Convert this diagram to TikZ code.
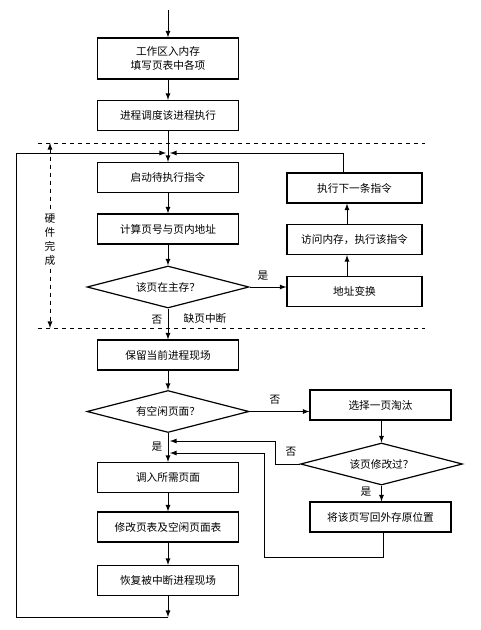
\documentclass[tikz,border=0pt]{standalone}
\usepackage{fontspec}
\setmainfont{Noto Sans CJK SC}
\usetikzlibrary{shapes.geometric}

\begin{document}
\begin{tikzpicture}[x=0.75pt,y=-0.75pt,>=latex]
\tikzstyle{every node}+=[inner sep=0pt,font=\fontsize{8}{11}\selectfont]
\tikzstyle{stepbox}=[draw=black,line width=0.9pt,minimum width=105.75pt,minimum height=22.5pt,align=center]
\tikzstyle{testbox}=[draw=black,line width=0.9pt,diamond,shape aspect=3.86,minimum width=121.5pt,minimum height=31.5pt]
\tikzstyle{flow}=[line width=0.7pt]
\useasboundingbox (0,0) rectangle (480,630);
% left column
\node [stepbox,minimum height=30.75pt] (load) at (168,58.5) {工作区入内存\\填写页表中各项};
\node [stepbox] (sched) at (168,115.5) {进程调度该进程执行};
\node [stepbox] (fetch) at (168,177.5) {启动待执行指令};
\node [stepbox] (calc) at (168,229) {计算页号与页内地址};
\node [testbox] (inmem) at (168,287) {该页在主存？};
\node [stepbox] (save) at (168,355) {保留当前进程现场};
\node [testbox] (free) at (168,411.5) {有空闲页面？};
\node [stepbox] (bring) at (168,477.5) {调入所需页面};
\node [stepbox] (table) at (168,527) {修改页表及空闲页面表};
\node [stepbox] (restore) at (168,580.5) {恢复被中断进程现场};
% right column
\node [stepbox,minimum width=101.25pt] (addr) at (354.5,291.5) {地址变换};
\node [stepbox,minimum width=101.25pt] (access) at (354.5,239.5) {访问内存，执行该指令};
\node [stepbox,minimum width=101.25pt] (next) at (354.5,188) {执行下一条指令};
\node [stepbox] (evict) at (380.5,405) {选择一页淘汰};
\node [testbox] (dirty) at (381.5,464) {该页修改过？};
\node [stepbox] (write) at (380.5,517) {将该页写回外存原位置};
% corner points
\coordinate (start) at (168,10);
\coordinate (jl) at (166,153);
\coordinate (jr) at (170,153);
\coordinate (lt) at (16,153);
\coordinate (lb) at (16,617);
\coordinate (bot) at (168,617);
\coordinate (rt) at (343,153);
\coordinate (ax) at (347,0);
\coordinate (na) at (170,441);
\coordinate (nb) at (170,453);
\coordinate (ca) at (275,441);
\coordinate (cb) at (264,557);
\coordinate (cc) at (383,557);
% main flow
\draw [flow,->] (start) -- (load);
\draw [flow,->] (load) -- (sched);
\draw [flow,->] (sched) -- (fetch);
\draw [flow,->] (fetch) -- (calc);
\draw [flow,->] (calc) -- (inmem);
\draw [flow,->] (inmem) -- (save);
\draw [flow,->] (save) -- (free);
\draw [flow,->] (free) -- (bring);
\draw [flow,->] (bring) -- (table);
\draw [flow,->] (table) -- (restore);
\draw [flow,->] (restore) -- (bot);
\draw [flow,->] (bot) -- (lb) -- (lt) -- (jl);
% page in memory
\draw [flow,->] (inmem.east) -- (inmem.east -| addr.west);
\draw [flow,->] (addr.north -| ax) -- (access.south -| ax);
\draw [flow,->] (access.north -| ax) -- (next.south -| ax);
\draw [flow,->] (next.north -| rt) -- (rt) -- (jr);
% replacement
\draw [flow,->] (free.east) -- (free.east -| evict.west);
\draw [flow,->] (evict.south -| dirty.north) -- (dirty.north);
\draw [flow,->] (dirty.south) -- (dirty.south |- write.north);
\draw [flow,->] (dirty.west) -| (ca) -- (na);
\draw [flow,->] (write.south -| cc) -- (cc) -- (cb) |- (nb);
% labels
\draw (263,276) node {是};
\draw (157,320) node {否};
\draw (205,318) node {缺页中断};
\draw (275,400) node {否};
\draw (157,447) node {是};
\draw (291,452) node {否};
\draw (366,492) node {是};
% hardware part
\draw [dashed,line width=0.7pt] (38,143) -- (425,143);
\draw [dashed,line width=0.7pt] (38,328) -- (425,328);
\coordinate (hwt) at (50,143);
\coordinate (hwb) at (50,328);
\draw [dashed,flow,<->] (hwt) -- (hwb);
\node [fill=white,inner sep=1pt,align=center,font=\fontsize{8}{10.5}\selectfont] (hw) at (50,240) {硬\\件\\完\\成};
\end{tikzpicture}
\end{document}
